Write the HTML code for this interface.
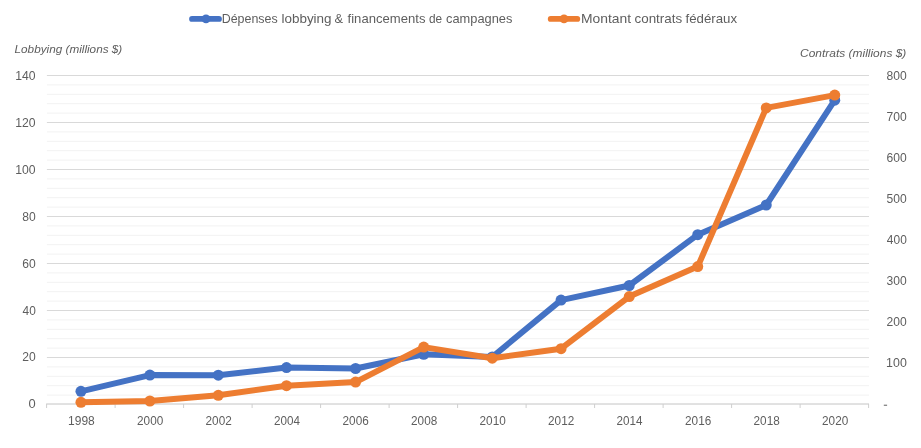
<!DOCTYPE html><html><head><meta charset="utf-8"><style>html,body{margin:0;padding:0;background:#fff}svg{display:block}text{font-family:"Liberation Sans",sans-serif;fill:#5e5e5e}</style></head><body><div style="will-change:transform;width:921px;height:448px">
<svg width="921" height="448" viewBox="0 0 921 448">
<rect width="921" height="448" fill="#fff"/>
<line x1="46.9" x2="869.0" y1="84.90" y2="84.90" stroke="#f2f2f2" stroke-width="1"/>
<line x1="46.9" x2="869.0" y1="94.30" y2="94.30" stroke="#f2f2f2" stroke-width="1"/>
<line x1="46.9" x2="869.0" y1="103.70" y2="103.70" stroke="#f2f2f2" stroke-width="1"/>
<line x1="46.9" x2="869.0" y1="113.10" y2="113.10" stroke="#f2f2f2" stroke-width="1"/>
<line x1="46.9" x2="869.0" y1="131.90" y2="131.90" stroke="#f2f2f2" stroke-width="1"/>
<line x1="46.9" x2="869.0" y1="141.30" y2="141.30" stroke="#f2f2f2" stroke-width="1"/>
<line x1="46.9" x2="869.0" y1="150.70" y2="150.70" stroke="#f2f2f2" stroke-width="1"/>
<line x1="46.9" x2="869.0" y1="160.10" y2="160.10" stroke="#f2f2f2" stroke-width="1"/>
<line x1="46.9" x2="869.0" y1="178.90" y2="178.90" stroke="#f2f2f2" stroke-width="1"/>
<line x1="46.9" x2="869.0" y1="188.30" y2="188.30" stroke="#f2f2f2" stroke-width="1"/>
<line x1="46.9" x2="869.0" y1="197.70" y2="197.70" stroke="#f2f2f2" stroke-width="1"/>
<line x1="46.9" x2="869.0" y1="207.10" y2="207.10" stroke="#f2f2f2" stroke-width="1"/>
<line x1="46.9" x2="869.0" y1="225.90" y2="225.90" stroke="#f2f2f2" stroke-width="1"/>
<line x1="46.9" x2="869.0" y1="235.30" y2="235.30" stroke="#f2f2f2" stroke-width="1"/>
<line x1="46.9" x2="869.0" y1="244.70" y2="244.70" stroke="#f2f2f2" stroke-width="1"/>
<line x1="46.9" x2="869.0" y1="254.10" y2="254.10" stroke="#f2f2f2" stroke-width="1"/>
<line x1="46.9" x2="869.0" y1="272.90" y2="272.90" stroke="#f2f2f2" stroke-width="1"/>
<line x1="46.9" x2="869.0" y1="282.30" y2="282.30" stroke="#f2f2f2" stroke-width="1"/>
<line x1="46.9" x2="869.0" y1="291.70" y2="291.70" stroke="#f2f2f2" stroke-width="1"/>
<line x1="46.9" x2="869.0" y1="301.10" y2="301.10" stroke="#f2f2f2" stroke-width="1"/>
<line x1="46.9" x2="869.0" y1="319.90" y2="319.90" stroke="#f2f2f2" stroke-width="1"/>
<line x1="46.9" x2="869.0" y1="329.30" y2="329.30" stroke="#f2f2f2" stroke-width="1"/>
<line x1="46.9" x2="869.0" y1="338.70" y2="338.70" stroke="#f2f2f2" stroke-width="1"/>
<line x1="46.9" x2="869.0" y1="348.10" y2="348.10" stroke="#f2f2f2" stroke-width="1"/>
<line x1="46.9" x2="869.0" y1="366.90" y2="366.90" stroke="#f2f2f2" stroke-width="1"/>
<line x1="46.9" x2="869.0" y1="376.30" y2="376.30" stroke="#f2f2f2" stroke-width="1"/>
<line x1="46.9" x2="869.0" y1="385.70" y2="385.70" stroke="#f2f2f2" stroke-width="1"/>
<line x1="46.9" x2="869.0" y1="395.10" y2="395.10" stroke="#f2f2f2" stroke-width="1"/>
<line x1="46.9" x2="869.0" y1="75.50" y2="75.50" stroke="#d9d9d9" stroke-width="1"/>
<line x1="46.9" x2="869.0" y1="122.50" y2="122.50" stroke="#d9d9d9" stroke-width="1"/>
<line x1="46.9" x2="869.0" y1="169.50" y2="169.50" stroke="#d9d9d9" stroke-width="1"/>
<line x1="46.9" x2="869.0" y1="216.50" y2="216.50" stroke="#d9d9d9" stroke-width="1"/>
<line x1="46.9" x2="869.0" y1="263.50" y2="263.50" stroke="#d9d9d9" stroke-width="1"/>
<line x1="46.9" x2="869.0" y1="310.50" y2="310.50" stroke="#d9d9d9" stroke-width="1"/>
<line x1="46.9" x2="869.0" y1="357.50" y2="357.50" stroke="#d9d9d9" stroke-width="1"/>
<line x1="46.2" x2="869.0" y1="404.00" y2="404.00" stroke="#c4c4c4" stroke-width="1"/>
<line x1="46.60" x2="46.60" y1="404.0" y2="408.0" stroke="#cfcfcf" stroke-width="1"/>
<line x1="115.10" x2="115.10" y1="404.0" y2="408.0" stroke="#cfcfcf" stroke-width="1"/>
<line x1="183.60" x2="183.60" y1="404.0" y2="408.0" stroke="#cfcfcf" stroke-width="1"/>
<line x1="252.10" x2="252.10" y1="404.0" y2="408.0" stroke="#cfcfcf" stroke-width="1"/>
<line x1="320.60" x2="320.60" y1="404.0" y2="408.0" stroke="#cfcfcf" stroke-width="1"/>
<line x1="389.10" x2="389.10" y1="404.0" y2="408.0" stroke="#cfcfcf" stroke-width="1"/>
<line x1="457.60" x2="457.60" y1="404.0" y2="408.0" stroke="#cfcfcf" stroke-width="1"/>
<line x1="526.10" x2="526.10" y1="404.0" y2="408.0" stroke="#cfcfcf" stroke-width="1"/>
<line x1="594.60" x2="594.60" y1="404.0" y2="408.0" stroke="#cfcfcf" stroke-width="1"/>
<line x1="663.10" x2="663.10" y1="404.0" y2="408.0" stroke="#cfcfcf" stroke-width="1"/>
<line x1="731.60" x2="731.60" y1="404.0" y2="408.0" stroke="#cfcfcf" stroke-width="1"/>
<line x1="800.10" x2="800.10" y1="404.0" y2="408.0" stroke="#cfcfcf" stroke-width="1"/>
<line x1="868.60" x2="868.60" y1="404.0" y2="408.0" stroke="#cfcfcf" stroke-width="1"/>
<text transform="translate(15.27,79.90) scale(0.9766,1)" font-size="12.5">140</text>
<text transform="translate(15.27,126.83) scale(0.9766,1)" font-size="12.5">120</text>
<text transform="translate(15.27,173.76) scale(0.9766,1)" font-size="12.5">100</text>
<text transform="translate(22.37,220.69) scale(0.9692,1)" font-size="12.5">80</text>
<text transform="translate(22.37,267.61) scale(0.9692,1)" font-size="12.5">60</text>
<text transform="translate(22.61,314.54) scale(0.9509,1)" font-size="12.5">40</text>
<text transform="translate(22.37,361.47) scale(0.9692,1)" font-size="12.5">20</text>
<text transform="translate(28.58,408.40) scale(1.0333,1)" font-size="12.5">0</text>
<text transform="translate(886.62,80.00) scale(0.9671,1)" font-size="12.5">800</text>
<text transform="translate(886.62,121.06) scale(0.9671,1)" font-size="12.5">700</text>
<text transform="translate(886.62,162.12) scale(0.9671,1)" font-size="12.5">600</text>
<text transform="translate(886.62,203.19) scale(0.9671,1)" font-size="12.5">500</text>
<text transform="translate(886.86,244.25) scale(0.9550,1)" font-size="12.5">400</text>
<text transform="translate(886.62,285.31) scale(0.9671,1)" font-size="12.5">300</text>
<text transform="translate(886.62,326.38) scale(0.9671,1)" font-size="12.5">200</text>
<text transform="translate(886.11,367.44) scale(0.9922,1)" font-size="12.5">100</text>
<text transform="translate(68.09,424.60) scale(0.9600,1)" font-size="12.5">1998</text>
<text transform="translate(137.08,424.60) scale(0.9421,1)" font-size="12.5">2000</text>
<text transform="translate(205.58,424.60) scale(0.9421,1)" font-size="12.5">2002</text>
<text transform="translate(274.08,424.60) scale(0.9333,1)" font-size="12.5">2004</text>
<text transform="translate(342.58,424.60) scale(0.9421,1)" font-size="12.5">2006</text>
<text transform="translate(411.08,424.60) scale(0.9421,1)" font-size="12.5">2008</text>
<text transform="translate(479.58,424.60) scale(0.9421,1)" font-size="12.5">2010</text>
<text transform="translate(548.08,424.60) scale(0.9421,1)" font-size="12.5">2012</text>
<text transform="translate(616.58,424.60) scale(0.9333,1)" font-size="12.5">2014</text>
<text transform="translate(685.08,424.60) scale(0.9421,1)" font-size="12.5">2016</text>
<text transform="translate(753.58,424.60) scale(0.9421,1)" font-size="12.5">2018</text>
<text transform="translate(822.08,424.60) scale(0.9421,1)" font-size="12.5">2020</text>
<text transform="translate(221.66,22.70) scale(0.9431,1)" font-size="13.2">Dépenses</text>
<text transform="translate(281.43,22.70) scale(1.0211,1)" font-size="13.2">lobbying</text>
<text transform="translate(334.52,22.70) scale(0.9697,1)" font-size="13.2">&amp;</text>
<text transform="translate(347.55,22.70) scale(0.9929,1)" font-size="13.2">financements</text>
<text transform="translate(429.05,22.70) scale(0.8963,1)" font-size="13.2">de</text>
<text transform="translate(446.01,22.70) scale(0.9740,1)" font-size="13.2">campagnes</text>
<text transform="translate(580.95,22.70) scale(1.0516,1)" font-size="13.2">Montant</text>
<text transform="translate(634.49,22.70) scale(1.0152,1)" font-size="13.2">contrats</text>
<text transform="translate(685.45,22.70) scale(1.0059,1)" font-size="13.2">fédéraux</text>
<text transform="translate(14.54,53.00) scale(1.0496,1)" font-size="11.2" font-style="italic">Lobbying (millions $)</text>
<text transform="translate(800.07,57.30) scale(1.0677,1)" font-size="11.2" font-style="italic">Contrats (millions $)</text>
<rect x="883.8" y="404.6" width="3.3" height="1.4" fill="#8c8c8c"/>
<polyline points="80.95,391.30 149.90,375.10 218.30,375.20 286.50,367.60 355.60,368.50 423.75,354.30 492.25,357.00 561.05,300.10 629.25,285.50 697.75,234.70 766.25,205.00 834.75,100.20" fill="none" stroke="#4472c4" stroke-width="6" stroke-linejoin="round" stroke-linecap="round"/>
<circle cx="80.95" cy="391.30" r="5.5" fill="#4472c4"/>
<circle cx="149.90" cy="375.10" r="5.5" fill="#4472c4"/>
<circle cx="218.30" cy="375.20" r="5.5" fill="#4472c4"/>
<circle cx="286.50" cy="367.60" r="5.5" fill="#4472c4"/>
<circle cx="355.60" cy="368.50" r="5.5" fill="#4472c4"/>
<circle cx="423.75" cy="354.30" r="5.5" fill="#4472c4"/>
<circle cx="492.25" cy="357.00" r="5.5" fill="#4472c4"/>
<circle cx="561.05" cy="300.10" r="5.5" fill="#4472c4"/>
<circle cx="629.25" cy="285.50" r="5.5" fill="#4472c4"/>
<circle cx="697.75" cy="234.70" r="5.5" fill="#4472c4"/>
<circle cx="766.25" cy="205.00" r="5.5" fill="#4472c4"/>
<circle cx="834.75" cy="100.20" r="5.5" fill="#4472c4"/>
<polyline points="80.95,402.30 149.90,401.00 218.30,395.30 286.50,385.70 355.60,382.10 423.75,347.10 492.25,358.20 561.05,348.70 629.25,296.60 697.75,266.60 766.25,107.90 834.75,95.10" fill="none" stroke="#ed7d31" stroke-width="6" stroke-linejoin="round" stroke-linecap="round"/>
<circle cx="80.95" cy="402.30" r="5.5" fill="#ed7d31"/>
<circle cx="149.90" cy="401.00" r="5.5" fill="#ed7d31"/>
<circle cx="218.30" cy="395.30" r="5.5" fill="#ed7d31"/>
<circle cx="286.50" cy="385.70" r="5.5" fill="#ed7d31"/>
<circle cx="355.60" cy="382.10" r="5.5" fill="#ed7d31"/>
<circle cx="423.75" cy="347.10" r="5.5" fill="#ed7d31"/>
<circle cx="492.25" cy="358.20" r="5.5" fill="#ed7d31"/>
<circle cx="561.05" cy="348.70" r="5.5" fill="#ed7d31"/>
<circle cx="629.25" cy="296.60" r="5.5" fill="#ed7d31"/>
<circle cx="697.75" cy="266.60" r="5.5" fill="#ed7d31"/>
<circle cx="766.25" cy="107.90" r="5.5" fill="#ed7d31"/>
<circle cx="834.75" cy="95.10" r="5.5" fill="#ed7d31"/>
<line x1="192.05" x2="218.95" y1="18.9" y2="18.9" stroke="#4472c4" stroke-width="5.9" stroke-linecap="round"/><circle cx="206" cy="18.9" r="4.45" fill="#4472c4"/>
<line x1="550.75" x2="577.25" y1="18.9" y2="18.9" stroke="#ed7d31" stroke-width="5.9" stroke-linecap="round"/><circle cx="564" cy="18.9" r="4.45" fill="#ed7d31"/>
</svg></div></body></html>
